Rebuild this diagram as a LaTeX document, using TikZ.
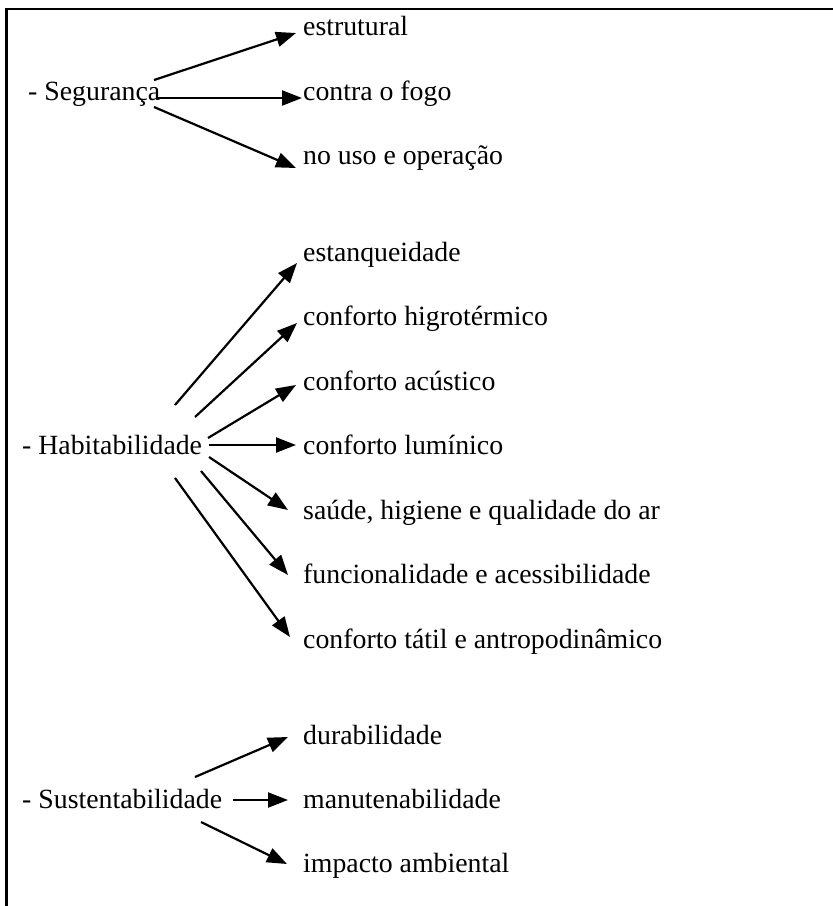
\documentclass[tikz,border=0pt]{standalone}
\usepackage{fontspec}
\setmainfont{Liberation Serif}
\usetikzlibrary{arrows.meta}
\begin{document}
\begin{tikzpicture}[x=1pt,y=-1pt,
  txt/.style={anchor=base west,inner sep=0pt,font=\fontsize{27.8}{32}\selectfont},
  arr/.style={line width=2.2pt,-{Triangle[length=20pt,width=15pt]}},
  frame/.style={line width=2.8pt}]
\useasboundingbox (0,0) rectangle (833,906);
\coordinate (fb) at (6.5,906);
\coordinate (fc) at (6.5,9);
\coordinate (fr) at (833,9);
\draw[frame] (fb) -- (fc) -- (fr);
% Seguranca
\node[txt] (seg) at (28,100) {- Segurança};
\node[txt] (s1) at (303,35) {estrutural};
\node[txt] (s2) at (303,100) {contra o fogo};
\node[txt] (s3) at (303,164) {no uso e operação};
\coordinate (sa1) at (154,80);  \coordinate (sb1) at (296,33);
\coordinate (sa2) at (158,98);  \coordinate (sb2) at (302,98);
\coordinate (sa3) at (154,107); \coordinate (sb3) at (296,168);
\draw[arr] (sa1) -- (sb1);
\draw[arr] (sa2) -- (sb2);
\draw[arr] (sa3) -- (sb3);
% Habitabilidade
\node[txt] (hab) at (22,454) {- Habitabilidade};
\node[txt] (h1) at (303,261) {estanqueidade};
\node[txt] (h2) at (303,325) {conforto higrotérmico};
\node[txt] (h3) at (303,390) {conforto acústico};
\node[txt] (h4) at (303,454) {conforto lumínico};
\node[txt] (h5) at (303,519) {saúde, higiene e qualidade do ar};
\node[txt] (h6) at (303,583) {funcionalidade e acessibilidade};
\node[txt] (h7) at (303,648) {conforto tátil e antropodinâmico};
\coordinate (ha1) at (175,405); \coordinate (hb1) at (297,263);
\coordinate (ha2) at (195,417); \coordinate (hb2) at (297,323);
\coordinate (ha3) at (208,438); \coordinate (hb3) at (296,385);
\coordinate (ha4) at (209,445); \coordinate (hb4) at (296,445);
\coordinate (ha5) at (209,457); \coordinate (hb5) at (288,510);
\coordinate (ha6) at (201,471); \coordinate (hb6) at (288,575);
\coordinate (ha7) at (175,478); \coordinate (hb7) at (290,637);
\foreach \i in {1,...,7}{\draw[arr] (ha\i) -- (hb\i);}
% Sustentabilidade
\node[txt] (sus) at (22,808) {- Sustentabilidade};
\node[txt] (u1) at (303,744) {durabilidade};
\node[txt] (u2) at (303,808) {manutenabilidade};
\node[txt] (u3) at (303,872) {impacto ambiental};
\coordinate (ua1) at (195,777); \coordinate (ub1) at (288,737);
\coordinate (ua2) at (233,800); \coordinate (ub2) at (288,800);
\coordinate (ua3) at (201,822); \coordinate (ub3) at (287,864);
\foreach \i in {1,2,3}{\draw[arr] (ua\i) -- (ub\i);}
\end{tikzpicture}
\end{document}
